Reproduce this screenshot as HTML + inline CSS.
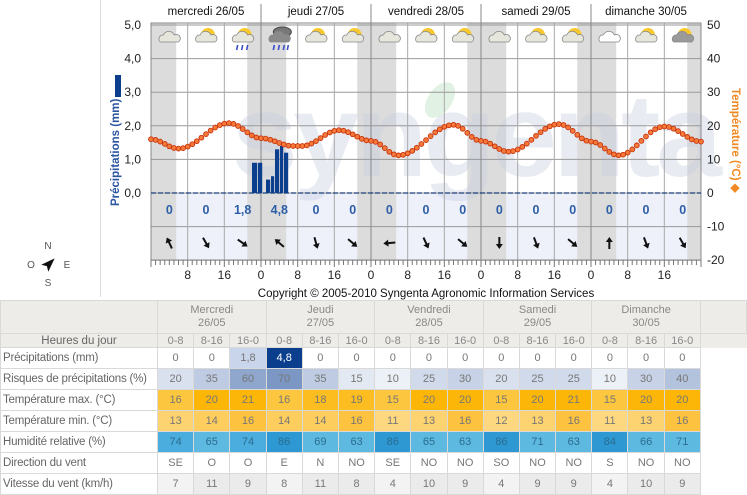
<!DOCTYPE html>
<html><head><meta charset="utf-8">
<style>
html,body{margin:0;padding:0;background:#fff;width:747px;height:492px;overflow:hidden;font-family:"Liberation Sans",Arial,sans-serif;}
#c{position:absolute;left:0;top:0;}
table{position:absolute;left:0;top:300px;border-collapse:collapse;font-size:11px;color:#777;table-layout:fixed;width:747px;}
td{border:1px solid #d9d9d9;text-align:center;height:20px;padding:0;white-space:nowrap;overflow:hidden;line-height:14px;}
td.l{text-align:left;padding-left:2px;color:#666;font-size:11.5px;letter-spacing:-0.2px;}
tr.h td{background:#eeece8;color:#888;}
tr.hh td{height:13px;line-height:12px;}
</style></head><body>
<svg id="c" width="747" height="300" xmlns="http://www.w3.org/2000/svg" font-family="Liberation Sans, Arial, sans-serif"></svg>
<table id="t"></table>
<script>
var s=document.getElementById('c'),h='';
var X0=151,X1=701,DW=110;
function hx(hr){return X0+hr*DW/24;}
h+='<line x1="100.5" y1="0" x2="100.5" y2="297" stroke="#ddd"/>';
h+='<rect x="151" y="193" width="550" height="67" fill="#eef0fa"/>';
var bands=[[0,5.5]];for(var d=0;d<5;d++){bands.push([d*24+21,Math.min(d*24+29.5,120)]);}
bands.forEach(function(b){h+='<rect x="'+hx(b[0])+'" y="23" width="'+(hx(b[1])-hx(b[0]))+'" height="237" fill="#dcdcdc"/>';});
h+='<text x="232" y="176" font-size="118" font-weight="bold" fill="#c9cfe2" opacity="0.4" letter-spacing="-4">syngenta</text>';
h+='<ellipse cx="440" cy="100" rx="12" ry="20" transform="rotate(35 440 100)" fill="#a8d8b0" opacity="0.35"/>';
for(var i=0;i<=7;i++){var y=25+i*33.6;h+='<line x1="151" y1="'+y+'" x2="701" y2="'+y+'" stroke="#999" stroke-width="1"/>';}
for(var k=0;k<=15;k++){var x=hx(k*8);h+='<line x1="'+x+'" y1="23" x2="'+x+'" y2="260" stroke="'+(k%3==0?'#888':'#aaa')+'"/>';}
h+='<rect x="151" y="23" width="550" height="237" fill="none" stroke="#888"/>';
h+='<line x1="151" y1="193" x2="701" y2="193" stroke="#1a3f7a" stroke-dasharray="5,2" stroke-width="1.2"/>';
var days=['mercredi 26/05','jeudi 27/05','vendredi 28/05','samedi 29/05','dimanche 30/05'];
for(var d=0;d<5;d++){h+='<text x="'+(hx(d*24+12))+'" y="15" font-size="11.5" text-anchor="middle" fill="#111">'+days[d]+'</text>';if(d>0)h+='<line x1="'+hx(d*24)+'" y1="4" x2="'+hx(d*24)+'" y2="23" stroke="#888"/>';}
var la=['5,0','4,0','3,0','2,0','1,0','0,0'];
for(var i=0;i<6;i++)h+='<text x="141" y="'+(29+i*33.6)+'" font-size="12" text-anchor="end" fill="#222">'+la[i]+'</text>';
for(var i=0;i<8;i++)h+='<text x="707" y="'+(29+i*33.6)+'" font-size="12" fill="#222">'+(50-i*10)+'</text>';
h+='<rect x="115" y="75" width="6" height="22" fill="#0b3f8e"/>';
h+='<text transform="translate(119,206) rotate(-90)" font-size="11.5" font-weight="bold" fill="#2a55a0">Précipitations (mm)</text>';
h+='<text transform="translate(732,88) rotate(90)" font-size="11.5" font-weight="bold" fill="#f08a24">Température (°C) ◆</text>';
for(var k=0;k<=120;k++){var x=hx(k);h+='<line x1="'+x+'" y1="260" x2="'+x+'" y2="'+(k%8==0?267:265)+'" stroke="#777"/>';}
for(var k=1;k<15;k++){var x=hx(k*8);h+='<text x="'+x+'" y="279" font-size="12" text-anchor="middle" fill="#222">'+[0,8,16][k%3]+'</text>';}
h+='<text x="426" y="297" font-size="11.5" text-anchor="middle" fill="#111">Copyright © 2005-2010 Syngenta Agronomic Information Services</text>';
var bars=[[252,258,0.9],[258,263,0.9],[266,271,0.4],[271,275,0.5],[275,280,1.3],[280,284,1.4],[284,289,1.2]];
bars.forEach(function(b){h+='<rect x="'+b[0]+'" y="'+(193-b[2]*33.6)+'" width="'+(b[1]-b[0]-0.8)+'" height="'+(b[2]*33.6)+'" fill="#0b3f8e"/>';});
var kp=[[0,16],[6,13.2],[17,20.8],[24,16.3],[31,14],[33,14],[41,18.7],[48,15.5],[54,11.2],[66,20.3],[72,15.5],[78,12.3],[89,20.5],[96,15.3],[102,11.2],[112,19.8],[120,15.3]];
function T(t){for(var i=0;i<kp.length-1;i++){if(t<=kp[i+1][0]){var a=kp[i],b=kp[i+1],f=(t-a[0])/(b[0]-a[0]);f=(1-Math.cos(Math.PI*f))/2;return a[1]+(b[1]-a[1])*f;}}return 15;}
for(var t=0;t<=120;t+=1){var x=hx(t),y=193-T(t)*3.36;h+='<circle cx="'+x.toFixed(1)+'" cy="'+y.toFixed(1)+'" r="2.4" fill="#f57a3a" stroke="#c8320a" stroke-width="0.9"/>';}
var pv=['0','0','1,8','4,8','0','0','0','0','0','0','0','0','0','0','0'];
var ang=[-25,150,125,-50,165,130,-95,155,130,180,160,130,0,160,150];
for(var k=0;k<15;k++){var cx=hx(k*8+4);h+='<text x="'+cx+'" y="214" font-size="12.5" font-weight="bold" text-anchor="middle" fill="#2d5ea8">'+pv[k]+'</text>';
h+='<g transform="translate('+cx+',243) rotate('+ang[k]+')"><polygon points="0,-6 -3.5,-1 -1,-1 -1,6 1,6 1,-1 3.5,-1" fill="#111"/></g>';
var ic=['c','s','r','d','s','s','c','s','s','c','s','s','w','s','k'][k],iy=37,o='';
if(ic=='s'||ic=='r'||ic=='k')o+='<circle cx="'+(cx+2)+'" cy="'+(iy-2)+'" r="7" fill="#f8c830"/>';
var cf=ic=='d'?'#8a8a8a':(ic=='k'?'#9a9a9a':(ic=='w'?'#fff':'#e6e6dc'));
if(ic=='d'){o+='<ellipse cx="'+(cx+3)+'" cy="'+(iy-5)+'" rx="9" ry="5" fill="#777" stroke="#444"/>';}
o+='<path d="M'+(cx-9)+','+(iy+5)+' a4,4 0 0,1 3,-7 a6,6 0 0,1 11,0 a4,4 0 0,1 4,7 z" fill="'+cf+'" stroke="#888" stroke-width="0.8"/>';
if(ic=='r'||ic=='d')o+='<path d="M'+(cx-5)+','+(iy+8)+' l-1,5 M'+(cx)+','+(iy+8)+' l-1,5 M'+(cx+5)+','+(iy+8)+' l-1,5'+(ic=='d'?' M'+(cx+9)+','+(iy+8)+' l-1,5':'')+'" stroke="#3a4fc8" stroke-width="1.6"/>';
h+=o;}
h+='<text x="48" y="249" font-size="10" text-anchor="middle" fill="#555">N</text><text x="31" y="268" font-size="10" text-anchor="middle" fill="#555">O</text><text x="67" y="268" font-size="10" text-anchor="middle" fill="#555">E</text><text x="48" y="286" font-size="10" text-anchor="middle" fill="#555">S</text>';
h+='<g transform="translate(49,264) rotate(45)"><polygon points="0,-8 -5,6 0,3 5,6" fill="#111"/></g>';
s.innerHTML=h;
var tb='<colgroup><col style="width:157px">';for(var i=0;i<15;i++)tb+='<col style="width:36.2px">';tb+='<col></colgroup>';
var D=['Mercredi<br>26/05','Jeudi<br>27/05','Vendredi<br>28/05','Samedi<br>29/05','Dimanche<br>30/05'];
tb+='<tr class="h"><td style="height:32px"></td>';D.forEach(function(d){tb+='<td colspan="3" style="line-height:13px;height:32px">'+d+'</td>';});tb+='<td></td></tr>';
tb+='<tr class="h hh"><td style="color:#666;font-size:11.5px">Heures du jour</td>';for(var i=0;i<15;i++)tb+='<td>'+['0-8','8-16','16-0'][i%3]+'</td>';tb+='<td style="border-bottom:none;border-right:none"></td></tr>';
var R=[['Précipitations (mm)',['0','0','1,8','4,8','0','0','0','0','0','0','0','0','0','0','0'],['#fff','#fff','#c8d5ea','#0b3f8e','#fff','#fff','#fff','#fff','#fff','#fff','#fff','#fff','#fff','#fff','#fff']],
['Risques de précipitations (%)',[20,35,60,70,35,15,10,25,30,20,25,25,10,30,40],null,function(v){return 'rgb('+Math.round(255-v*1.87)+','+Math.round(255-v*1.49)+','+Math.round(255-v*0.84)+')';}],
['Température max. (°C)',[16,20,21,16,18,19,15,20,20,15,20,21,15,20,20],null,function(v){return v>=20?'#fbb608':(v>=18?'#fbbd20':'#fcc63e');}],
['Température min. (°C)',[13,14,16,14,14,16,11,13,16,12,13,16,11,13,16],null,function(v){return v>=16?'#fcc240':(v>=14?'#fdcd5e':(v>=13?'#fdd270':'#fdd880'));}],
['Humidité relative (%)',[74,65,74,86,69,63,86,65,63,86,71,63,84,66,71],null,function(v){return v>=84?'#2e98d2':(v>=72?'#4aaddd':'#5db9e0');}],
['Direction du vent',['SE','O','O','E','N','NO','SE','NO','NO','SO','NO','NO','S','NO','NO'],null,function(){return '#fff';}],
['Vitesse du vent (km/h)',[7,11,9,8,11,8,4,10,9,4,9,9,4,10,9],null,function(v,i){return i%3==0?'#f3f3f3':'#ebebeb';}]];
R.forEach(function(r,ri){tb+='<tr><td class="l">'+r[0]+'</td>';for(var i=0;i<15;i++){var bg=r[2]?r[2][i]:r[3](r[1][i],i);var col=(ri==0&&i==3)?'#fff':(ri==4?'#2a6c90':'#777');tb+='<td style="background:'+bg+';color:'+col+'">'+r[1][i]+'</td>';}tb+='<td style="border:none"></td></tr>';});
document.getElementById('t').innerHTML=tb;
</script>
</body></html>
